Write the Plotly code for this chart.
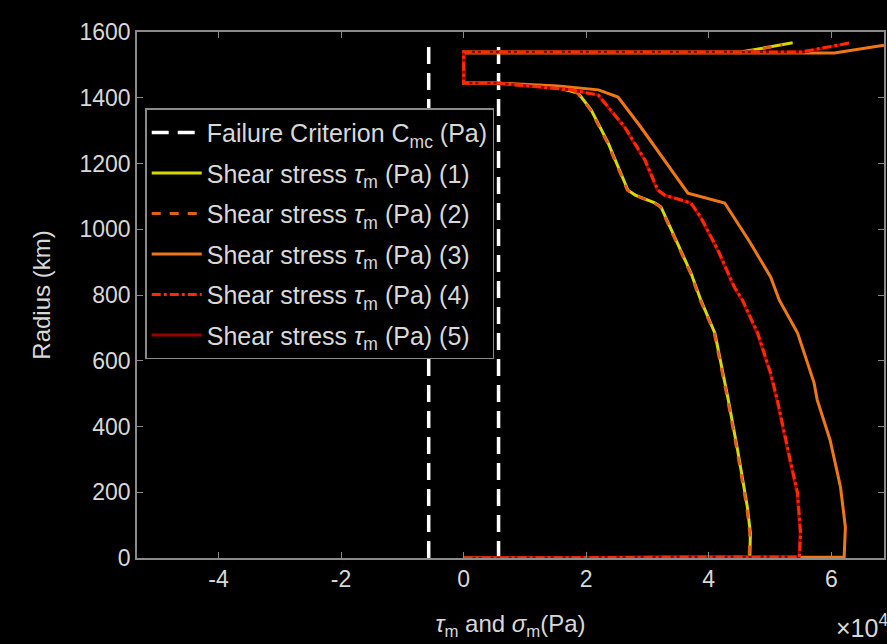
import plotly.graph_objects as go

# values in units of 1e4 Pa (axis shows x10^4)
r1 = [0, 3, 76, 155, 329, 490, 684, 785, 867, 976, 1068, 1080, 1104, 1119, 1262, 1363, 1414, 1430, 1439, 1445, 1445, 1539, 1539, 1567]
x1 = [0, 4.67, 4.68, 4.63, 4.47, 4.31, 4.10, 3.87, 3.71, 3.45, 3.22, 3.12, 2.80, 2.68, 2.36, 2.08, 1.87, 1.54, 0.89, 0.52, 0, 0, 4.52, 5.37]

r2 = [0, 3, 76, 155, 329, 490, 684, 785, 867, 976, 1068, 1080, 1104, 1119, 1262, 1363, 1414, 1430, 1439, 1445, 1445, 1539, 1539, 1562]
x2 = [0, 4.66, 4.67, 4.62, 4.46, 4.30, 4.09, 3.86, 3.70, 3.44, 3.21, 3.11, 2.79, 2.67, 2.35, 2.07, 1.86, 1.53, 0.88, 0.51, 0, 0, 4.60, 5.20]

r3 = [0, 3, 94, 216, 359, 481, 532, 684, 785, 855, 958, 1080, 1110, 1211, 1311, 1402, 1424, 1436, 1445, 1445, 1536, 1536, 1560]
x3 = [0, 6.21, 6.23, 6.15, 5.98, 5.77, 5.72, 5.45, 5.15, 5.01, 4.68, 4.26, 3.66, 3.28, 2.89, 2.52, 2.20, 1.54, 0.52, 0, 0, 6.05, 6.86]

r4 = [0, 3, 76, 198, 298, 481, 563, 684, 785, 824, 937, 1037, 1080, 1104, 1119, 1211, 1311, 1408, 1424, 1439, 1445, 1445, 1539, 1539, 1567]
x4 = [0, 5.48, 5.50, 5.45, 5.33, 5.12, 5.01, 4.80, 4.55, 4.42, 4.15, 3.87, 3.71, 3.28, 3.17, 2.96, 2.63, 2.20, 1.76, 0.89, 0.52, 0, 0, 5.50, 6.31]

r5 = [0, 3, 76, 198, 298, 481, 563, 684, 785, 824, 937, 1037, 1080, 1104, 1119, 1211, 1311, 1408, 1424, 1439, 1445, 1445, 1539, 1539, 1563]
x5 = [0, 5.47, 5.49, 5.44, 5.32, 5.11, 5.00, 4.79, 4.54, 4.41, 4.14, 3.86, 3.70, 3.27, 3.16, 2.95, 2.62, 2.19, 1.75, 0.88, 0.51, 0, 0, 5.55, 6.20]

crit_x_left = [-0.57, -0.57]
crit_x_right = [0.57, 0.57]
crit_r = [0, 1560]

x_ticks = [-4, -2, 0, 2, 4, 6]
y_ticks = [0, 200, 400, 600, 800, 1000, 1200, 1400, 1600]

TXT = "#d8d8d8"
AX = "#8a8a8a"

fig = go.Figure()

fig.add_trace(go.Scatter(x=crit_x_left, y=crit_r, mode="lines",
                         line=dict(color="white", width=3.5, dash="17px,9px"),
                         name="Failure Criterion C<sub>mc</sub> (Pa)", legendgroup="g0",
                         legendrank=1))
fig.add_trace(go.Scatter(x=crit_x_right, y=crit_r, mode="lines",
                         line=dict(color="white", width=3.5, dash="17px,9px"),
                         showlegend=False, legendgroup="g0"))

series = [
    (x1, r1, "#d8d800", "solid", "(1)", 1),
    (x2, r2, "#e0601a", "dash", "(2)", 2),
    (x3, r3, "#f07814", "solid", "(3)", 3),
    (x5, r5, "#9a0000", "solid", "(5)", 5),
    (x4, r4, "#ff2a00", "dashdot", "(4)", 4),
]
for xs, rs, col, dash, lab, k in series:
    fig.add_trace(go.Scatter(x=xs, y=rs, mode="lines",
                             line=dict(color=col, width=3, dash=dash),
                             name="Shear stress <i>τ</i><sub>m</sub> (Pa) " + lab,
                             legendgroup="g" + str(k),
                             legendrank=k + 1))

fig.update_layout(
    width=887, height=644,
    paper_bgcolor="black", plot_bgcolor="black",
    margin=dict(l=137, r=1, t=32, b=86),
    font=dict(family="Liberation Sans, Arial, sans-serif", size=23, color=TXT),
    showlegend=True,
    legend=dict(x=0.011, y=0.855, xanchor="left", yanchor="top",
                bgcolor="black", bordercolor=AX, borderwidth=1.5,
                font=dict(size=25, color=TXT), itemwidth=50,
                traceorder="grouped", tracegroupgap=5),
    xaxis=dict(range=[-5.33, 6.86], tickvals=x_ticks, ticktext=[str(v) for v in x_ticks],
               showgrid=False, zeroline=False, showline=True, linecolor=AX, linewidth=1.5,
               mirror="ticks", ticks="inside", ticklen=6, tickcolor=AX,
               tickfont=dict(size=23, color=TXT),
               title=dict(text="<i>τ</i><sub>m</sub> and <i>σ</i><sub>m</sub>(Pa)",
                          font=dict(size=24, color=TXT), standoff=24)),
    yaxis=dict(range=[0, 1600], tickvals=y_ticks,
               showgrid=False, zeroline=False, showline=True, linecolor=AX, linewidth=1.5,
               mirror="ticks", ticks="inside", ticklen=6, tickcolor=AX,
               tickfont=dict(size=23, color=TXT),
               title=dict(text="Radius (km)", font=dict(size=24, color=TXT), standoff=22)),
    annotations=[dict(text="×10<sup>4</sup>", xref="paper", yref="paper",
                      x=1.008, y=-0.095, xanchor="right", yanchor="top", showarrow=False,
                      font=dict(size=25, color=TXT))],
)

fig.write_html("out.html", config={"displayModeBar": False},
               post_script="document.body.style.margin='0';document.body.style.background='black';")
